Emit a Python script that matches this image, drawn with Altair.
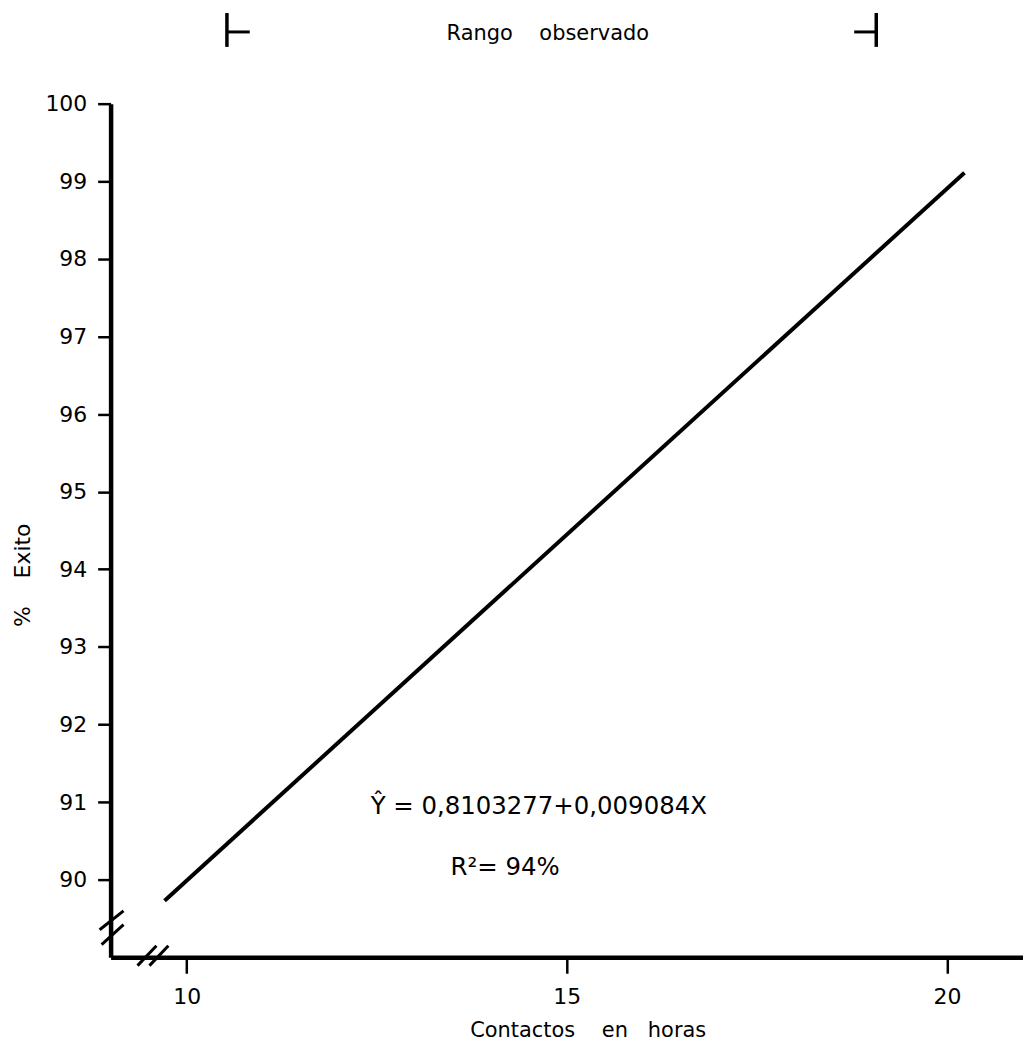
import altair as alt
import pandas as pd

# ---- values ----
line_x = [9.71, 20.23]          # Contactos en horas (ends of fitted line)
line_y = [89.73, 99.11]         # % Exito
x_ticks = [10, 15, 20]
y_ticks = [90, 91, 92, 93, 94, 95, 96, 97, 98, 99, 100]
rango = [10.53, 19.07]          # "Rango observado" limits
eq_text = ["\u0176 = 0,8103277+0,009084X", "R\u00b2= 94%"]
eq_x = [12.42, 13.47]
eq_y = [90.94, 90.15]
# axis break slashes (data coordinates)
brk_x1 = [8.856, 8.882, 9.354, 9.511]
brk_x2 = [9.170, 9.170, 9.603, 9.760]
brk_y1 = [89.355, 89.163, 88.893, 88.893]
brk_y2 = [89.599, 89.420, 89.150, 89.150]

FONT = "DejaVu Sans"
W, H = 916, 857

xs = alt.Scale(domain=[9, 21], nice=False, zero=False)
ys = alt.Scale(domain=[89, 100], nice=False, zero=False)

df_line = pd.DataFrame({"x": line_x, "y": line_y})

x_axis = alt.Axis(
    values=x_ticks, grid=False, tickSize=16, tickWidth=2.5, tickColor="black",
    domainColor="black", domainWidth=4.5, labelFontSize=22, labelFont=FONT,
    labelColor="black", labelPadding=13, labelBaseline="top",
    title="Contactos\u00a0\u00a0\u00a0\u00a0en\u00a0\u00a0\u00a0horas",
    titleFont=FONT, titleFontSize=21, titleFontWeight="normal", titleColor="black",
    titleX=479, titleY=80, titleAlign="center", titleBaseline="alphabetic",
    titleAnchor="start",
)
y_axis = alt.Axis(
    values=y_ticks, grid=False, tickSize=13, tickWidth=2.5, tickColor="black",
    domainColor="black", domainWidth=4.5, labelFontSize=22, labelFont=FONT,
    labelColor="black", labelPadding=11,
    title="%\u00a0\u00a0\u00a0\u00a0Exito",
    titleFont=FONT, titleFontSize=22, titleFontWeight="normal", titleColor="black",
    titleX=-88, titleY=473, titleAngle=270, titleAlign="center",
    titleBaseline="middle", titleAnchor="start",
)

line = alt.Chart(df_line).mark_line(color="black", strokeWidth=4, clip=False).encode(
    x=alt.X("x:Q", scale=xs, axis=x_axis),
    y=alt.Y("y:Q", scale=ys, axis=y_axis),
)

# break slashes
df_brk = pd.DataFrame({"x": brk_x1, "x2": brk_x2, "y": brk_y1, "y2": brk_y2})
breaks = alt.Chart(df_brk).mark_rule(color="black", strokeWidth=3).encode(
    x=alt.X("x:Q", scale=xs, axis=x_axis), x2="x2:Q",
    y=alt.Y("y:Q", scale=ys, axis=y_axis), y2="y2:Q",
)

# "Rango observado" brackets
df_rv = pd.DataFrame({"x": rango})
br_v = alt.Chart(df_rv).mark_rule(color="black", strokeWidth=3.5).encode(
    x=alt.X("x:Q", scale=xs, axis=x_axis),
    y=alt.value(-91), y2=alt.value(-57),
)
df_rh = pd.DataFrame({"x": [rango[0], rango[1] - 0.29], "x2": [rango[0] + 0.30, rango[1]]})
br_h = alt.Chart(df_rh).mark_rule(color="black", strokeWidth=3).encode(
    x=alt.X("x:Q", scale=xs, axis=x_axis), x2="x2:Q",
    y=alt.value(-72),
)
df_rt = pd.DataFrame({"x": [sum(rango) / 2 - 0.05], "t": ["Rango\u00a0\u00a0\u00a0\u00a0observado"]})
br_t = alt.Chart(df_rt).mark_text(font=FONT, fontSize=21, color="black", align="center", baseline="middle").encode(
    x=alt.X("x:Q", scale=xs, axis=x_axis), y=alt.value(-70), text="t:N",
)

# equation texts
df_eq = pd.DataFrame({"x": eq_x, "y": eq_y, "t": eq_text})
eq = alt.Chart(df_eq).mark_text(font=FONT, fontSize=24.5, color="black", align="left", baseline="middle").encode(
    x=alt.X("x:Q", scale=xs, axis=x_axis), y=alt.Y("y:Q", scale=ys, axis=y_axis), text="t:N",
)

chart = alt.layer(line, breaks, br_v, br_h, br_t, eq).properties(
    width=W, height=H,
    padding={"left": 103, "top": 94, "right": 0, "bottom": 87},
    autosize=alt.AutoSizeParams(type="none"),
).configure_view(stroke=None)

chart.save("out.html", embed_options={"renderer": "svg", "actions": False})
